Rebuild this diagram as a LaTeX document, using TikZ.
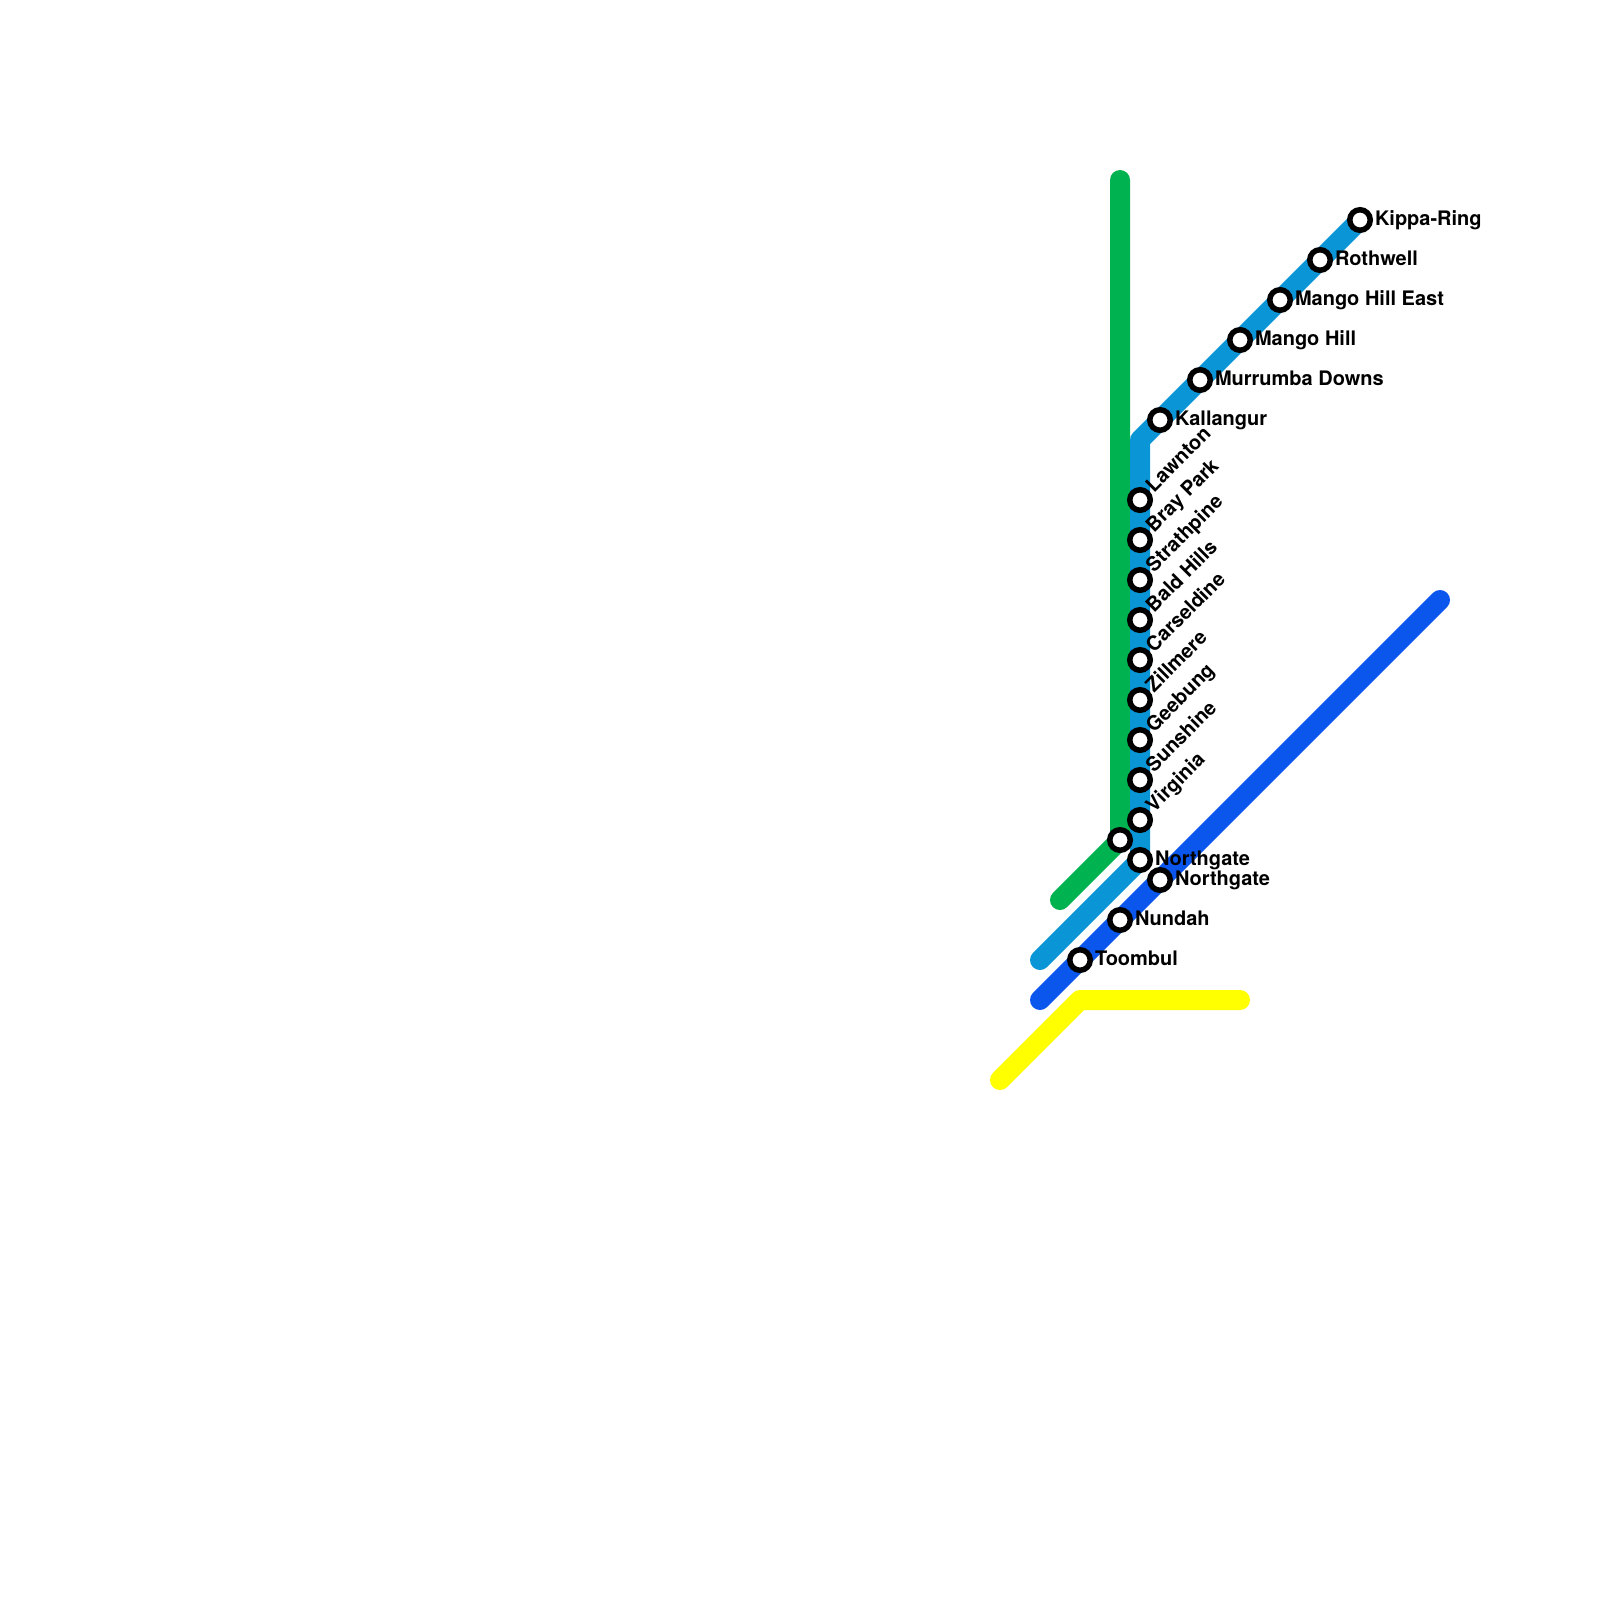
\documentclass[tikz,border=0pt]{standalone}
\usepackage{fontspec}
\setmainfont{TeX Gyre Heros}
\definecolor{mlgreen}{RGB}{0,178,80}
\definecolor{mlteal}{RGB}{9,149,214}
\definecolor{mlblue}{RGB}{11,87,238}
\definecolor{mlyellow}{RGB}{255,255,0}
\usetikzlibrary{backgrounds}
\tikzset{
  stn/.style={circle,draw=black,fill=white,line width=5.5pt,minimum size=20.5pt,inner sep=0pt,outer sep=0pt},
  lbl/.style={anchor=base west,inner sep=0pt,outer sep=0pt,font=\fontsize{20}{24}\selectfont\bfseries},
  rlbl/.style={lbl,rotate=45},
  metro/.style={line width=20pt,line cap=round,line join=round}
}

\begin{document}
\begin{tikzpicture}[x=1pt,y=-1pt]
  \useasboundingbox (0,0) rectangle (1600,1600);
  % Redcliffe branch, diagonal part
  \node[stn] (kippa) at (1360,220) {};
  \node[stn] (rothwell) at (1320,260) {};
  \node[stn] (hilleast) at (1280,300) {};
  \node[stn] (mangohill) at (1240,340) {};
  \node[stn] (murrumba) at (1200,380) {};
  \node[stn] (kallangur) at (1160,420) {};
  \node[lbl] (kippatxt) at (1375,225) {Kippa-Ring};
  \node[lbl] (rothwelltxt) at (1335,265) {Rothwell};
  \node[lbl] (hilleasttxt) at (1295,305) {Mango Hill East};
  \node[lbl] (mangohilltxt) at (1255,345) {Mango Hill};
  \node[lbl] (murrumbatxt) at (1215,385) {Murrumba Downs};
  \node[lbl] (kallangurtxt) at (1175,425) {Kallangur};
  % Vertical part
  \node[stn] (lawnton) at (1140,500) {};
  \node[stn] (braypark) at (1140,540) {};
  \node[stn] (strathpine) at (1140,580) {};
  \node[stn] (baldhills) at (1140,620) {};
  \node[stn] (carseldine) at (1140,660) {};
  \node[stn] (zillmere) at (1140,700) {};
  \node[stn] (geebung) at (1140,740) {};
  \node[stn] (sunshine) at (1140,780) {};
  \node[stn] (virginia) at (1140,820) {};
  \node[stn] (northgate) at (1140,860) {};
  \node[rlbl] (lawntontxt) at (1154,493) {Lawnton};
  \node[rlbl] (brayparktxt) at (1154,533) {Bray Park};
  \node[rlbl] (strathpinetxt) at (1154,573) {Strathpine};
  \node[rlbl] (baldhillstxt) at (1154,613) {Bald Hills};
  \node[rlbl] (carseldinetxt) at (1154,653) {Carseldine};
  \node[rlbl] (zillmeretxt) at (1154,693) {Zillmere};
  \node[rlbl] (geebungtxt) at (1154,733) {Geebung};
  \node[rlbl] (sunshinetxt) at (1154,773) {Sunshine};
  \node[rlbl] (virginiatxt) at (1154,813) {Virginia};
  \node[lbl] (northgatetxt) at (1155,865) {Northgate};
  % Shorncliffe line stations
  \node[stn] (greenstn) at (1120,840) {};
  \node[stn] (northgatetwo) at (1160,880) {};
  \node[stn] (nundah) at (1120,920) {};
  \node[stn] (toombul) at (1080,960) {};
  \node[lbl] (northgatetwotxt) at (1175,885) {Northgate};
  \node[lbl] (nundahtxt) at (1135,925) {Nundah};
  \node[lbl] (toombultxt) at (1095,965) {Toombul};
  % Line ends and bends
  \coordinate (greentop) at (1120,180);
  \coordinate (greenend) at (1060,900);
  \coordinate (tealbend) at (1140,440);
  \coordinate (tealend) at (1040,960);
  \coordinate (blueend) at (1040,1000);
  \coordinate (bluetop) at (1440,600);
  \coordinate (yellowend) at (1000,1080);
  \coordinate (yellowbend) at (1080,1000);
  \coordinate (yellowright) at (1240,1000);
  % Lines go under the stations
  \begin{pgfonlayer}{background}
    \draw[metro,mlgreen] (greentop) -- (greenstn.center) -- (greenend);
    \draw[metro,mlteal] (kippa.center) -- (tealbend) -- (northgate.center) -- (tealend);
    \draw[metro,mlblue] (blueend) -- (bluetop);
    \draw[metro,mlyellow] (yellowend) -- (yellowbend) -- (yellowright);
  \end{pgfonlayer}
\end{tikzpicture}
\end{document}
